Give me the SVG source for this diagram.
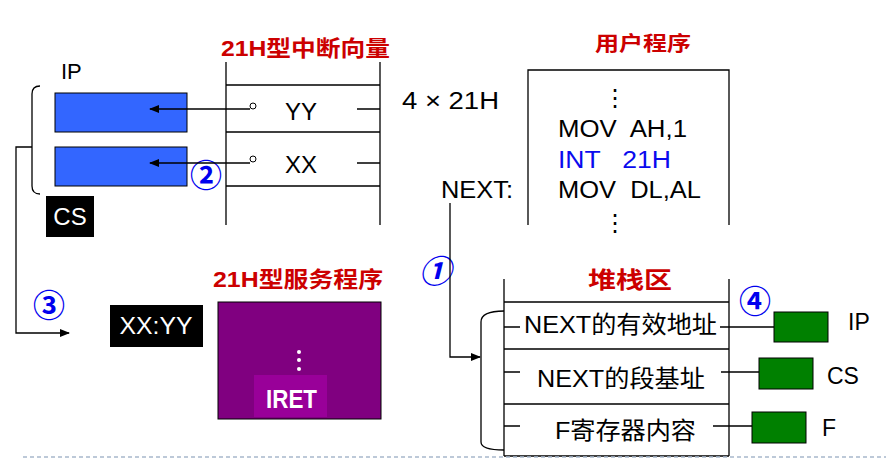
<svg xmlns="http://www.w3.org/2000/svg" width="886" height="461" viewBox="0 0 886 461">
<defs>
<marker id="ah" markerWidth="10" markerHeight="8" refX="9" refY="4" orient="auto" markerUnits="userSpaceOnUse">
<path d="M0,0 L10,4 L0,8 Z" fill="#000"/>
</marker>
<style>
.ln{stroke:#000;stroke-width:1.3;fill:none}
.t{font-family:"Liberation Sans","DejaVu Sans",sans-serif;fill:#000;white-space:pre}
.red{font-family:"Liberation Sans","Noto Sans CJK SC",sans-serif;font-weight:bold;fill:#cc0000}
.cj{font-family:"Liberation Sans","Noto Sans CJK SC",sans-serif;fill:#000}
.num{font-family:"Noto Sans CJK SC","DejaVu Sans",sans-serif;fill:#0000ee;font-size:32px;font-weight:bold}
.wt{font-family:"Liberation Sans","DejaVu Sans",sans-serif;fill:#fff}
.blue{fill:#3366ff;stroke:#000;stroke-width:1}
.green{fill:#008000;stroke:#000;stroke-width:1}
</style>
</defs>
<rect width="886" height="461" fill="#fff"/>

<g id="vector-table">
<text class="red" x="221" y="56" font-size="22" textLength="169" lengthAdjust="spacingAndGlyphs">21H型中断向量</text>
<path class="ln" d="M226,62 V225 M380,62 V225 M226,85 H380 M226,132 H380 M226,186 H380"/>
<text class="t" x="301" y="120" font-size="24" text-anchor="middle">YY</text>
<text class="t" x="301" y="173" font-size="24" text-anchor="middle">XX</text>
<circle cx="253" cy="106" r="3" fill="#fff" stroke="#000" stroke-width="1"/>
<circle cx="253" cy="159" r="3" fill="#fff" stroke="#000" stroke-width="1"/>
<path class="ln" d="M357,109 H380 M357,163 H380"/>
<text class="t" x="402" y="109" font-size="23" textLength="97" lengthAdjust="spacingAndGlyphs">4 × 21H</text>
</g>

<g id="registers">
<text class="t" x="61" y="79" font-size="22">IP</text>
<rect class="blue" x="55" y="93" width="132" height="39"/>
<rect class="blue" x="55" y="147" width="132" height="39"/>
<rect x="46" y="196" width="48" height="41" fill="#000"/>
<text class="wt" x="70" y="225" font-size="24" text-anchor="middle">CS</text>
</g>

<g id="user-program">
<text class="red" x="595" y="51" font-size="20" textLength="96" lengthAdjust="spacingAndGlyphs">用户程序</text>
<path class="ln" d="M528,225 V70 H729 V225"/>
<text class="t" x="615" y="106" font-size="24" text-anchor="middle" font-family="DejaVu Sans">⋮</text>
<text class="t" x="558" y="137" font-size="23" textLength="129" lengthAdjust="spacingAndGlyphs">MOV  AH,1</text>
<text class="t" x="558" y="168" font-size="23" style="fill:#0a0aee" textLength="113" lengthAdjust="spacingAndGlyphs">INT   21H</text>
<text class="t" x="558" y="198" font-size="23" textLength="143" lengthAdjust="spacingAndGlyphs">MOV  DL,AL</text>
<text class="t" x="615" y="231" font-size="24" text-anchor="middle" font-family="DejaVu Sans">⋮</text>
<text class="t" x="441" y="198" font-size="23" textLength="72" lengthAdjust="spacingAndGlyphs">NEXT:</text>
</g>

<g id="service-routine">
<rect x="110" y="305" width="93" height="42" fill="#000"/>
<text class="wt" x="156" y="334" font-size="24" text-anchor="middle" textLength="73" lengthAdjust="spacingAndGlyphs">XX:YY</text>
<text class="red" x="213" y="287" font-size="22" textLength="170" lengthAdjust="spacingAndGlyphs">21H型服务程序</text>
<rect x="218" y="302" width="163" height="117" fill="#800080" stroke="#000" stroke-width="1"/>
<circle cx="299" cy="352" r="2" fill="#fff"/>
<circle cx="299" cy="360" r="2" fill="#fff"/>
<circle cx="299" cy="369" r="2" fill="#fff"/>
<rect x="254" y="375" width="73" height="42" fill="#990099"/>
<text class="wt" x="266" y="408" font-size="25" font-weight="bold" textLength="51" lengthAdjust="spacingAndGlyphs">IRET</text>
</g>

<g id="stack">
<text class="red" x="588" y="288" font-size="23" textLength="84" lengthAdjust="spacingAndGlyphs">堆栈区</text>
<path class="ln" d="M504,279 V456 M729,279 V456 M504,302 H729 M504,349 H729 M504,404 H729 M504,456 H729"/>
<path class="ln" d="M504,327 H520 M504,372 H520 M504,426 H520"/>
<text class="cj" x="524" y="333" font-size="24" textLength="193" lengthAdjust="spacingAndGlyphs">NEXT的有效地址</text>
<text class="cj" x="537" y="387" font-size="24" textLength="168" lengthAdjust="spacingAndGlyphs">NEXT的段基址</text>
<text class="cj" x="555" y="439" font-size="24" textLength="141" lengthAdjust="spacingAndGlyphs">F寄存器内容</text>
</g>

<g id="restore-registers">
<rect class="green" x="774" y="312" width="54" height="30"/>
<rect class="green" x="759" y="358" width="54" height="31"/>
<rect class="green" x="752" y="412" width="54" height="31"/>
<text class="t" x="848" y="330" font-size="23">IP</text>
<text class="t" x="827" y="384" font-size="23">CS</text>
<text class="t" x="822" y="436" font-size="23">F</text>
</g>

<g id="step-labels">
<text class="num" x="206" y="187" text-anchor="middle">②</text>
<text class="num" x="49" y="317" text-anchor="middle">③</text>
<text class="num" x="435" y="283" text-anchor="middle" font-style="italic">①</text>
<text class="num" x="755" y="313" text-anchor="middle">④</text>
</g>

<g id="connectors">
<path class="ln" d="M250,109 H150" marker-end="url(#ah)"/>
<path class="ln" d="M250,163 H150" marker-end="url(#ah)"/>
<path class="ln" d="M40,86 Q32,86 32,94 V186 Q32,194 40,194"/>
<path class="ln" d="M32,147 H16 V333 H69" marker-end="url(#ah)"/>
<path class="ln" d="M450,203 V357 H480" marker-end="url(#ah)"/>
<path class="ln" d="M504,311 Q481,311 481,322 V442 Q481,450 504,450"/>
<path class="ln" d="M720,327 H774 M721,372 H759 M713,426 H752"/>
</g>

<line x1="23" y1="457" x2="886" y2="457" stroke="#a8b8cc" stroke-width="1.5" stroke-dasharray="4,3"/>
</svg>
